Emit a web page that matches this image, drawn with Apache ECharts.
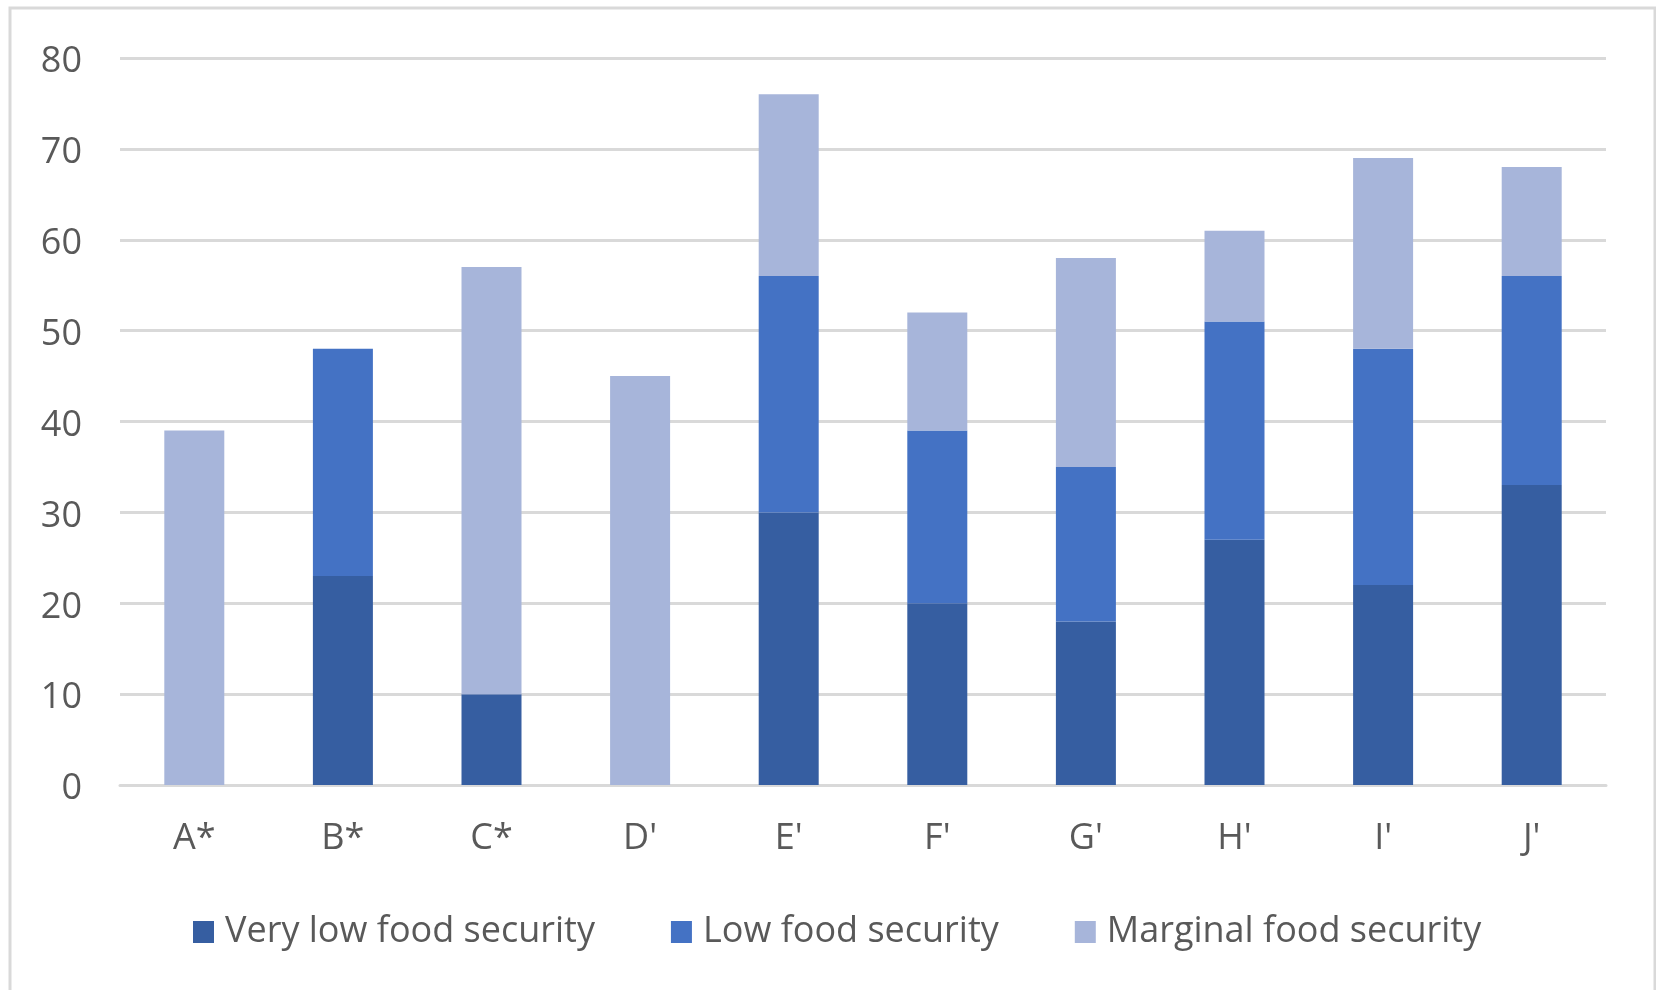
<!DOCTYPE html>
<html>
<head>
<meta charset="utf-8">
<title>Food security by group</title>
<script src="https://cdn.jsdelivr.net/npm/echarts@6/dist/echarts.min.js"></script>
<style>
  html, body { margin: 0; padding: 0; background: #ffffff; }
  #chart { width: 1656px; height: 990px; }
</style>
</head>
<body>
<div id="chart"></div>
<script>
// Groups on the x axis
const categories = ["A*", "B*", "C*", "D'", "E'", "F'", "G'", "H'", "I'", "J'"];

// Stacked segments per group (percent)
const veryLow  = [0, 23, 10, 0, 30, 20, 18, 27, 22, 33];
const low      = [0, 25, 0, 0, 26, 19, 17, 24, 26, 23];
const marginal = [39, 0, 47, 45, 20, 13, 23, 10, 21, 12];

const seriesNames = ["Very low food security", "Low food security", "Marginal food security"];
const yTicks = { min: 0, max: 80, interval: 10 };

const colors = ["#365EA1", "#4472C4", "#A7B5DA"];
const textGray = "#595959";
const gridGray = "#D9D9D9";
const fontFamily = "'Open Sans', 'DejaVu Sans', sans-serif";

const chart = echarts.init(document.getElementById("chart"), null, { renderer: "canvas" });

function barSeries(name, data, color) {
  return {
    name: name,
    type: "bar",
    stack: "total",
    data: data,
    barWidth: 60,
    itemStyle: { color: color },
    emphasis: { disabled: true }
  };
}

chart.setOption({
  animation: false,
  backgroundColor: "#ffffff",
  color: colors,
  textStyle: { fontFamily: fontFamily },
  graphic: [
    {
      // outer frame of the chart area
      type: "rect",
      silent: true,
      shape: { x: 10, y: 8, width: 1645, height: 1000 },
      style: { fill: null, stroke: gridGray, lineWidth: 3 }
    }
  ],
  grid: { left: 120, right: 50, top: 58, bottom: 205, containLabel: false },
  legend: {
    data: seriesNames,
    left: 188,
    top: 909,
    orient: "horizontal",
    icon: "rect",
    itemWidth: 21,
    itemHeight: 22,
    itemGap: 76,
    textStyle: { color: textGray, fontSize: 36, fontFamily: fontFamily, padding: [0, 0, 0, 6] },
    selectedMode: false
  },
  xAxis: {
    type: "category",
    data: categories,
    axisLine: { show: true, lineStyle: { color: gridGray, width: 3 } },
    axisTick: { show: false },
    axisLabel: { color: textGray, fontSize: 36, fontFamily: fontFamily, margin: 36 }
  },
  yAxis: {
    type: "value",
    min: yTicks.min,
    max: yTicks.max,
    interval: yTicks.interval,
    axisLine: { show: false },
    axisTick: { show: false },
    splitLine: { show: true, lineStyle: { color: gridGray, width: 3 } },
    // a short line box with top alignment centres the digits on their gridline
    axisLabel: {
      color: textGray, fontSize: 36, fontFamily: fontFamily, margin: 38,
      verticalAlign: "top", lineHeight: 8
    }
  },
  series: [
    barSeries(seriesNames[0], veryLow, colors[0]),
    barSeries(seriesNames[1], low, colors[1]),
    barSeries(seriesNames[2], marginal, colors[2])
  ]
});
</script>
</body>
</html>
